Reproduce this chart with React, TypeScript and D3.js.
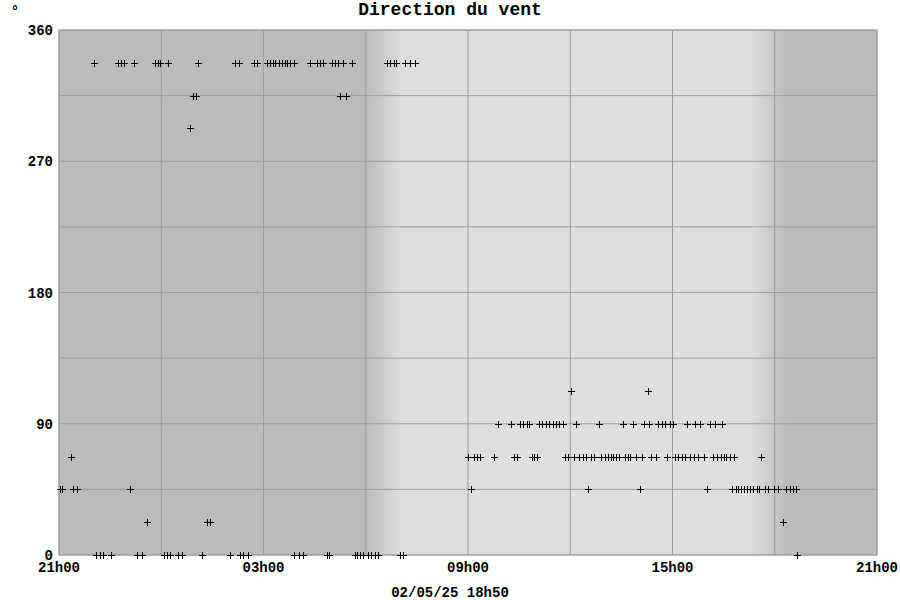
import React from 'react';
import * as d3 from 'd3';

// wind direction readings (degrees), grouped by value, times hh:mm
// from 21h00 on 01/05 to 21h00 on 02/05
const dir0 = ["22:06", "22:12", "22:18", "22:31", "23:17", "23:26", "00:04", "00:10", "00:15", "00:30", "00:36", "01:11", "02:01", "02:18", "02:24", "02:32", "03:54", "04:02", "04:10", "04:51", "04:56", "05:41", "05:45", "05:50", "05:55", "06:04", "06:10", "06:16", "06:22", "07:00", "07:05", "18:40"];
const dir22 = ["23:35", "01:20", "01:26", "18:15"];
const dir45 = ["21:02", "21:06", "21:25", "21:31", "23:05", "09:05", "12:31", "14:02", "16:01", "16:44", "16:51", "16:56", "17:01", "17:06", "17:12", "17:16", "17:22", "17:28", "17:33", "17:43", "17:48", "17:59", "18:05", "18:20", "18:26", "18:32", "18:37"];
const dir67 = ["21:21", "09:00", "09:10", "09:15", "09:21", "09:46", "10:21", "10:26", "10:52", "10:56", "11:01", "11:50", "11:56", "12:07", "12:16", "12:22", "12:28", "12:36", "12:42", "12:55", "13:01", "13:06", "13:11", "13:16", "13:21", "13:26", "13:36", "13:42", "13:46", "13:55", "14:06", "14:23", "14:31", "14:50", "15:04", "15:10", "15:16", "15:22", "15:31", "15:37", "15:45", "15:55", "16:11", "16:18", "16:25", "16:31", "16:35", "16:41", "16:48", "17:36"];
const dir90 = ["09:52", "10:16", "10:31", "10:37", "10:43", "10:48", "11:05", "11:11", "11:17", "11:23", "11:29", "11:35", "11:41", "11:47", "12:11", "12:51", "13:32", "13:51", "14:10", "14:19", "14:35", "14:41", "14:47", "14:56", "15:01", "15:26", "15:40", "15:48", "16:06", "16:15", "16:27"];
const dir112 = ["12:01", "14:16"];
const dir292 = ["00:51"];
const dir315 = ["00:56", "01:01", "05:14", "05:26"];
const dir337 = ["22:02", "22:44", "22:49", "22:54", "23:12", "23:49", "23:54", "23:58", "00:12", "01:05", "02:10", "02:17", "02:44", "02:49", "03:06", "03:11", "03:16", "03:21", "03:27", "03:32", "03:37", "03:42", "03:47", "03:53", "04:21", "04:34", "04:40", "04:45", "05:00", "05:06", "05:12", "05:20", "05:35", "06:37", "06:43", "06:49", "06:54", "07:09", "07:18", "07:27"];

const yTicks = [0, 90, 180, 270, 360];
const yGrid = [0, 45, 90, 135, 180, 225, 270, 315, 360];
const dawn = ["06:00", "07:05"];
const dusk = ["17:15", "18:20"];

const title = "Direction du vent";
const stamp = "02/05/25 18h50";

const W = 900, H = 600;
const left = 59, right = 877, top = 30, bottom = 555;
const font = '"Liberation Mono", "Courier New", monospace';
const night = "#bbbbbb", day = "#dedede";

const parse = (s: string) => {
  const [h, m] = s.split(':').map(Number);
  return new Date(2025, 4, h >= 21 ? 1 : 2, h, m);
};

const groups: [number, string[]][] = [
  [0, dir0], [22.5, dir22], [45, dir45], [67.5, dir67], [90, dir90],
  [112.5, dir112], [292.5, dir292], [315, dir315], [337.5, dir337],
];

export default function App() {
  const start = new Date(2025, 4, 1, 21, 0);
  const end = new Date(2025, 4, 2, 21, 0);
  const x = d3.scaleTime().domain([start, end]).range([left, right]);
  const y = d3.scaleLinear().domain([0, 360]).range([bottom, top]);

  const xGrid = x.ticks(d3.timeHour.every(3)!);
  const xLabels = xGrid.filter((_, i) => i % 2 === 0);
  const fmt = d3.timeFormat('%Hh%M');

  const points = groups.flatMap(([v, ts]) => ts.map(t => ({ t: parse(t), v })));

  // background stops as fraction of the plot width
  const frac = (s: string) => (x(parse(s)) - left) / (right - left);

  return (
    <svg width={W} height={H} style={{ position: 'absolute', left: 0, top: 0, background: '#fff' }}>
      <defs>
        <linearGradient id="sky" x1="0" x2="1" y1="0" y2="0">
          <stop offset={frac(dawn[0])} stopColor={night} />
          <stop offset={frac(dawn[1])} stopColor={day} />
          <stop offset={frac(dusk[0])} stopColor={day} />
          <stop offset={frac(dusk[1])} stopColor={night} />
        </linearGradient>
      </defs>

      <text x={450} y={15} textAnchor="middle" fontFamily={font} fontWeight="bold" fontSize={18}>{title}</text>
      <text x={15} y={16} textAnchor="middle" fontFamily={font} fontWeight="bold" fontSize={14}>°</text>

      <rect x={left} y={top} width={right - left} height={bottom - top} fill="url(#sky)" />

      {yGrid.map(v => (
        <line key={'h' + v} x1={left} x2={right} y1={y(v)} y2={y(v)} stroke="#9c9c9c" strokeWidth={1} />
      ))}
      {xGrid.map(d => (
        <line key={'v' + d.getTime()} x1={x(d)} x2={x(d)} y1={top} y2={bottom} stroke="#9c9c9c" strokeWidth={1} />
      ))}
      <rect x={left} y={top} width={right - left} height={bottom - top} fill="none" stroke="#a0a0a0" strokeWidth={1} />

      <g shapeRendering="crispEdges">
        {points.map((p, i) => {
          const px = Math.round(x(p.t)) + 0.5, py = Math.round(y(p.v)) + 0.5;
          return (
            <path key={i} d={`M${px - 3.5},${py}H${px + 3.5}M${px},${py - 3.5}V${py + 3.5}`}
              stroke="#000" strokeWidth={1} />
          );
        })}
      </g>

      {yTicks.map(v => (
        <text key={'yl' + v} x={53} y={y(v) + 5} textAnchor="end" fontFamily={font} fontWeight="bold" fontSize={14}>{v}</text>
      ))}
      {xLabels.map(d => (
        <text key={'xl' + d.getTime()} x={x(d)} y={572} textAnchor="middle" fontFamily={font} fontWeight="bold" fontSize={14}>{fmt(d)}</text>
      ))}
      <text x={450} y={597} textAnchor="middle" fontFamily={font} fontWeight="bold" fontSize={14}>{stamp}</text>
    </svg>
  );
}
